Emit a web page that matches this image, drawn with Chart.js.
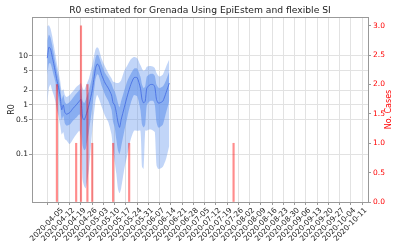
<!DOCTYPE html>
<html>
<head>
<meta charset="utf-8">
<script src="https://cdn.jsdelivr.net/npm/chart.js@4.4.0/dist/chart.umd.min.js"></script>
<style>
  body { margin: 0; background: #fff; }
</style>
</head>
<body>
<canvas id="GraficoR0" width="400" height="250"></canvas>
<script>
// dados (dias contados a partir de 2020-04-05)
var inicio = '2020-04-05';
var r0Dias = [0,1,2,3,4,5,6,7,8,9,10,11,12,14,16,18,20,21,22,23,24,26,28,30,31,32,34,36,38,40,41,42,43,44,45,46,48,50,52,54,56,58,59,60,61,62,64,66,67,68,69,70,72,74,76];
var r0Mediana = [9,15,14,10,7,4.8,3.2,2.3,1.5,0.8,1.0,0.7,0.65,0.7,0.85,1.0,1.2,1.3,0.55,0.5,0.6,1.0,2.0,5.5,6.8,6.5,4.0,2.8,2.2,1.6,1.1,1.0,0.7,0.45,0.35,0.5,0.9,1.6,2.6,3.6,3.6,2.2,1.3,1.1,1.2,2.2,2.6,2.6,2.3,1.3,1.1,1.1,1.2,1.8,2.8];
var r0Inf50 = [4,7,7,5.5,4.0,3.0,2.0,1.4,0.95,0.5,0.6,0.42,0.38,0.4,0.48,0.55,0.65,0.55,0.15,0.12,0.13,0.3,0.9,3.3,4.2,4.0,2.4,1.6,1.2,0.8,0.45,0.35,0.2,0.12,0.1,0.14,0.3,0.6,1.1,1.6,1.5,0.8,0.4,0.35,0.4,1.0,1.2,1.2,1.0,0.45,0.35,0.35,0.4,0.7,1.2];
var r0Sup50 = [20,27,24,17,11.5,7.5,5.0,3.5,2.4,1.3,1.6,1.15,1.05,1.15,1.4,1.7,2.0,2.1,1.2,1.1,1.3,2.0,3.8,9.0,10.5,10,6.5,4.5,3.6,2.7,2.2,1.9,1.5,1.1,0.9,1.2,2.0,3.2,4.3,5.5,5.5,3.8,2.6,2.2,2.4,3.8,4.3,4.3,3.9,2.6,2.3,2.2,2.4,3.2,4.8];
var r0Inf95 = [1.0,2.2,2.6,2.0,1.6,1.2,0.8,0.6,0.4,0.25,0.28,0.2,0.19,0.16,0.2,0.25,0.3,0.2,0.03,0.022,0.02,0.05,0.3,1.2,1.6,1.4,0.9,0.6,0.45,0.25,0.12,0.07,0.04,0.02,0.016,0.02,0.05,0.1,0.2,0.3,0.3,0.3,0.055,0.05,0.3,0.3,0.32,0.3,0.28,0.06,0.05,0.05,0.055,0.08,0.15];
var r0Sup95 = [40,42,36,26,17,11,7,4.8,3.2,1.9,2.1,1.6,1.45,1.6,1.9,2.3,2.6,2.8,2.2,2.0,2.4,3.5,6.5,13.5,15,14,8.5,6.0,4.5,3.5,3.0,2.9,2.8,2.8,2.9,3.2,5.0,6.5,8.5,9.5,9.0,6.5,5.5,5.0,5.2,6.0,6.2,6.0,5.6,4.5,4.0,3.8,4.2,6.0,8.5];

var casosDatas = ['2020-04-11','2020-04-23','2020-04-26','2020-04-30','2020-05-03','2020-05-16','2020-05-26','2020-07-30'];
var casosValores = [2,1,3,2,1,1,1,1];

var marcasDias = [0,7,14,21,28,35,42,49,56,63,70,77,84,91,98,105,112,119,126,133,140,147,154,161,168,175,182,189,196];
var marcasRotulos = ['2020-04-05','2020-04-12','2020-04-19','2020-04-26','2020-05-03','2020-05-10','2020-05-17','2020-05-24','2020-05-31','2020-06-07','2020-06-14','2020-06-21','2020-06-28','2020-07-05','2020-07-12','2020-07-19','2020-07-26','2020-08-02','2020-08-09','2020-08-16','2020-08-23','2020-08-30','2020-09-06','2020-09-13','2020-09-20','2020-09-27','2020-10-04','2020-10-11',''];
var r0Marcas = [0.1, 0.5, 1, 2, 5, 10];

function DiaDe(data) {
    return Math.round((Date.parse(data) - Date.parse(inicio)) / 86400000);
}

function Pontos(xs, ys) {
    return xs.map(function (x, i) { return { x: x, y: ys[i] }; });
}

var fonte = { family: 'DejaVu Sans', size: 7.5 };
var corEixo = '#999';

// borda de cima e titulo do eixo da direita (matplotlib escreve de baixo para cima)
var tituloDireita = {
    id: 'tituloDireita',
    afterDraw: function (chart) {
        var ctx = chart.ctx;
        var area = chart.chartArea;
        ctx.save();
        ctx.strokeStyle = corEixo;
        ctx.lineWidth = 1;
        ctx.beginPath();
        ctx.moveTo(area.left, area.top + 0.5);
        ctx.lineTo(area.right, area.top + 0.5);
        ctx.stroke();
        ctx.translate(388.5, (area.top + area.bottom) / 2);
        ctx.rotate(-Math.PI / 2);
        ctx.textAlign = 'center';
        ctx.textBaseline = 'middle';
        ctx.fillStyle = 'red';
        ctx.font = '8px "DejaVu Sans"';
        ctx.fillText('No. Cases', 0, 0);
        ctx.restore();
    }
};

var ctx = document.getElementById('GraficoR0').getContext('2d');

var grafico = new Chart(ctx, {
    type: 'line',
    data: {
        datasets: [
            {
                type: 'bar',
                label: 'Casos',
                yAxisID: 'y1',
                data: Pontos(casosDatas.map(DiaDe), casosValores),
                backgroundColor: 'rgba(255,0,0,0.45)',
                borderWidth: 0,
                barThickness: 1.5
            },
            {
                label: 'Mediana',
                yAxisID: 'y',
                data: Pontos(r0Dias, r0Mediana),
                borderColor: 'rgba(65,105,225,0.8)',
                borderWidth: 1,
                pointRadius: 0,
                tension: 0.2,
                fill: false
            },
            {
                label: 'Sup50',
                yAxisID: 'y',
                data: Pontos(r0Dias, r0Sup50),
                borderWidth: 0,
                pointRadius: 0,
                tension: 0.2,
                backgroundColor: 'rgba(100,149,237,0.6)',
                fill: '+1'
            },
            {
                label: 'Inf50',
                yAxisID: 'y',
                data: Pontos(r0Dias, r0Inf50),
                borderWidth: 0,
                pointRadius: 0,
                tension: 0.2,
                fill: false
            },
            {
                label: 'Sup95',
                yAxisID: 'y',
                data: Pontos(r0Dias, r0Sup95),
                borderWidth: 0,
                pointRadius: 0,
                tension: 0.2,
                backgroundColor: 'rgba(100,149,237,0.4)',
                fill: '+1'
            },
            {
                label: 'Inf95',
                yAxisID: 'y',
                data: Pontos(r0Dias, r0Inf95),
                borderWidth: 0,
                pointRadius: 0,
                tension: 0.2,
                fill: false
            }
        ]
    },
    options: {
        responsive: false,
        animation: false,
        layout: { padding: 0 },
        plugins: {
            legend: { display: false },
            tooltip: { enabled: false },
            title: {
                display: true,
                text: 'R0 estimated for Grenada Using EpiEstem and flexible SI',
                color: '#222',
                font: { family: 'DejaVu Sans', size: 9.2, weight: 'normal' },
                padding: { top: 5.5, bottom: 0.46 }
            }
        },
        scales: {
            x: {
                type: 'linear',
                min: -9.5,
                max: 199.7,
                offset: false,
                afterBuildTicks: function (eixo) {
                    eixo.ticks = marcasDias.map(function (v) { return { value: v }; });
                },
                afterFit: function (eixo) { eixo.height = 48; },
                ticks: {
                    autoSkip: false,
                    maxRotation: 45,
                    minRotation: 45,
                    labelOffset: 15,
                    padding: 1,
                    color: '#222',
                    font: fonte,
                    callback: function (v, i) { return marcasRotulos[i]; }
                },
                grid: { offset: false, color: '#e2e2e2', tickLength: 3, tickColor: corEixo },
                border: { color: corEixo }
            },
            y: {
                type: 'logarithmic',
                position: 'left',
                min: 0.01057,
                max: 62,
                afterBuildTicks: function (eixo) {
                    eixo.ticks = r0Marcas.map(function (v) { return { value: v }; });
                },
                afterFit: function (eixo) { eixo.width = 32; },
                ticks: {
                    padding: 1,
                    color: '#222',
                    font: fonte,
                    callback: function (v) { return String(v); }
                },
                title: {
                    display: true,
                    text: 'R0',
                    color: '#222',
                    font: { family: 'DejaVu Sans', size: 8 },
                    padding: 7
                },
                grid: { color: '#e2e2e2', tickLength: 3, tickColor: corEixo },
                border: { color: corEixo }
            },
            y1: {
                type: 'linear',
                position: 'right',
                min: 0,
                max: 3.15,
                afterFit: function (eixo) { eixo.width = 32; },
                ticks: {
                    stepSize: 0.5,
                    includeBounds: false,
                    padding: 2,
                    color: 'red',
                    font: fonte,
                    callback: function (v) { return v.toFixed(1); }
                },
                grid: { drawOnChartArea: false, tickLength: 3, tickColor: corEixo },
                border: { color: corEixo }
            }
        }
    },
    plugins: [tituloDireita]
});
</script>
</body>
</html>
